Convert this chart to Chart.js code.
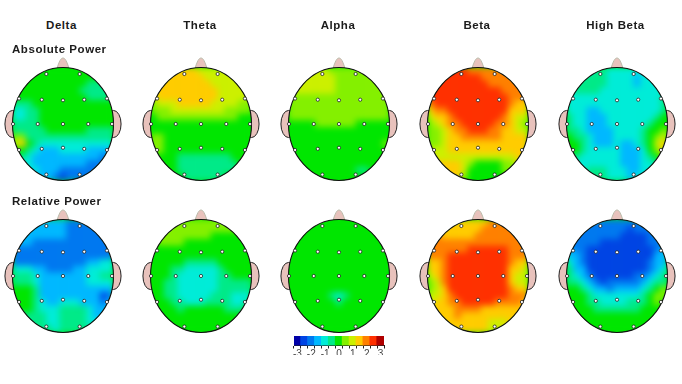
<!DOCTYPE html>
<html>
<head>
<meta charset="utf-8">
<script src="https://cdn.jsdelivr.net/npm/chart.js@4"></script>
<style>
  html, body { margin: 0; padding: 0; background: #fff; }
  body { position: relative; width: 682px; height: 384px; overflow: hidden; font-family: "Liberation Sans", Arial, sans-serif; }
  canvas { position: absolute; }
  .label { position: absolute; font-weight: bold; font-size: 11.5px; letter-spacing: .55px; color: #1c1c1c; white-space: nowrap; }
  .band { transform: translateX(-50%); }
</style>
</head>
<body>
<script>
const bandNames = ['Delta', 'Theta', 'Alpha', 'Beta', 'High Beta'];
const rowNames = ['Absolute Power', 'Relative Power'];
const legendTicks = [-3, -2.5, -2, -1.5, -1, -0.5, 0, 0.5, 1, 1.5, 2, 2.5, 3];

// z-score on the head, in half steps (-3 = -6 ... 3 = 6), 15 columns x 17 rows, read by eye
const deltaAbsolute = [
  [0,0,0,0,0,0,0,0,0,0,0,0,0,0,0],
  [0,0,0,0,0,0,0,0,0,0,0,0,0,0,0],
  [0,0,0,0,0,0,0,0,0,0,0,-1,-1,-1,0],
  [0,0,0,0,0,0,0,0,0,0,-1,-1,-1,-1,-1],
  [0,0,0,0,0,0,0,0,0,0,0,-1,-1,-1,-1],
  [-1,-1,-1,0,0,0,0,0,0,0,0,0,0,0,0],
  [-2,-2,-1,-1,0,0,0,0,0,0,0,0,0,0,0],
  [-2,-2,-1,-1,0,0,0,0,0,0,0,0,0,0,0],
  [-1,-1,-1,-1,0,0,0,0,0,0,0,0,0,0,0],
  [-1,-1,-1,-1,-1,0,0,0,0,0,0,-1,-1,-1,-1],
  [1,1,-1,-1,-1,-1,-1,-1,-1,-1,-1,-1,-1,-1,-1],
  [2,3,0,-1,-2,-2,-2,-2,-2,-2,-2,-2,-2,-2,-2],
  [0,0,-1,-2,-3,-3,-3,-2,-2,-2,-2,-3,-3,-3,-3],
  [-1,-1,-2,-3,-3,-3,-3,-3,-3,-3,-3,-3,-3,-4,-4],
  [-2,-2,-2,-3,-3,-3,-3,-3,-3,-3,-3,-4,-4,-4,-4],
  [-2,-2,-2,-2,-3,-3,-3,-4,-4,-4,-4,-4,-4,-4,-4],
  [-3,-3,-3,-3,-3,-3,-4,-5,-4,-4,-4,-4,-4,-4,-4]
];
const thetaAbsolute = [
  [3,3,3,3,3,3,3,2,2,2,2,2,2,2,2],
  [3,3,3,3,3,3,3,3,2,2,2,2,2,2,2],
  [3,3,3,3,3,3,3,3,3,2,2,2,2,2,2],
  [3,3,3,3,3,3,3,3,3,3,2,2,2,2,2],
  [2,3,3,3,3,3,3,3,3,3,2,2,2,2,2],
  [1,2,2,2,3,3,3,3,3,2,2,2,2,1,1],
  [1,1,1,2,2,2,2,2,2,2,2,1,1,1,1],
  [0,1,1,1,1,1,1,1,1,1,1,1,1,0,0],
  [0,0,0,0,0,0,0,0,0,0,0,0,0,0,0],
  [0,0,0,0,0,0,0,0,0,0,0,0,0,0,0],
  [1,1,0,0,0,0,0,0,0,0,0,0,0,0,0],
  [1,1,0,0,0,0,0,0,0,0,0,0,0,0,0],
  [1,1,0,0,0,0,0,0,0,0,0,0,0,0,0],
  [0,0,0,0,-1,-1,-1,-1,-1,-1,-1,-1,0,0,0],
  [0,0,0,0,-1,-1,-1,-1,-1,-1,-1,-1,-1,0,0],
  [0,0,0,0,-1,-1,-1,-1,-1,-1,-1,-1,-1,0,0],
  [0,0,0,0,0,-1,-1,-1,-1,-1,-1,0,0,0,0]
];
const alphaAbsolute = [
  [2,2,2,2,2,2,1,1,1,1,1,1,1,1,1],
  [2,2,2,2,2,2,2,1,1,1,1,1,1,1,1],
  [2,2,2,2,2,2,2,1,1,1,1,1,1,1,1],
  [2,2,2,2,2,2,2,1,1,1,1,1,1,1,1],
  [1,1,1,1,1,1,1,1,1,1,1,1,1,1,1],
  [1,1,1,1,1,1,1,1,1,1,1,1,1,1,1],
  [1,1,1,1,1,1,1,1,1,1,1,1,1,1,1],
  [1,1,1,1,1,1,1,1,1,1,1,1,1,1,1],
  [0,0,0,0,1,1,1,1,1,1,0,0,0,0,0],
  [0,0,0,0,0,0,0,0,0,0,0,0,0,0,0],
  [0,0,0,0,0,0,0,0,0,0,0,0,0,0,0],
  [0,0,0,0,0,0,0,0,0,0,0,0,0,0,1],
  [0,0,0,0,0,0,0,0,0,0,0,0,0,0,0],
  [0,0,0,0,0,0,0,0,0,0,0,0,0,0,0],
  [0,0,0,0,0,0,0,0,0,0,0,0,0,0,0],
  [0,0,0,0,0,0,0,0,0,0,-1,-1,0,0,0],
  [0,0,0,0,0,0,0,0,0,0,0,0,0,0,0]
];
const betaAbsolute = [
  [5,5,5,5,5,5,4,4,4,4,4,4,4,4,4],
  [5,5,5,5,5,5,5,5,4,4,4,4,4,4,4],
  [5,5,5,5,5,5,5,5,5,4,4,4,4,4,4],
  [5,5,5,5,5,5,5,5,5,5,5,4,4,4,4],
  [5,5,5,5,5,5,5,5,5,5,5,5,4,4,4],
  [4,5,5,5,5,5,5,5,5,5,5,5,4,3,3],
  [3,4,4,5,5,5,5,5,5,5,5,5,3,3,3],
  [2,3,3,4,5,5,5,5,5,5,5,4,3,2,2],
  [1,2,3,4,4,5,5,5,5,5,4,4,3,2,1],
  [1,1,2,3,4,4,5,5,5,4,4,3,3,2,2],
  [1,1,2,3,3,4,4,4,4,4,4,3,3,3,3],
  [1,1,2,3,3,3,3,3,3,3,3,3,3,3,3],
  [2,2,2,3,3,3,3,3,3,3,3,3,3,3,3],
  [2,2,2,2,2,2,2,2,2,2,2,2,2,3,3],
  [3,3,3,3,3,2,1,0,0,0,0,1,1,2,2],
  [3,3,3,3,3,2,0,0,0,0,0,1,1,1,1],
  [3,3,3,3,3,1,0,0,0,0,0,0,1,1,1]
];
const highBetaAbsolute = [
  [-2,-2,-2,-2,-1,-1,-2,-2,-2,-2,-2,-2,-2,-2,-2],
  [-2,-2,-1,-1,-1,-1,-2,-2,-2,-2,-3,-2,-2,-2,-2],
  [-2,-1,-1,-1,-1,-1,-2,-2,-2,-2,-3,-2,-2,-2,-2],
  [-2,-1,-1,-1,-1,-2,-2,-2,-2,-2,-2,-2,-2,-2,-2],
  [-2,-2,-2,-2,-2,-2,-2,-2,-2,-2,-2,-2,-2,-2,-1],
  [-2,-2,-2,-2,-2,-2,-2,-2,-2,-2,-2,-2,-2,-2,-1],
  [-2,-2,-2,-3,-3,-2,-2,-2,-2,-2,-2,-2,-2,-2,-1],
  [-1,-2,-2,-3,-3,-3,-2,-2,-2,-2,-2,-2,-2,-1,0],
  [-1,-2,-2,-3,-3,-3,-2,-2,-2,-2,-2,-2,-1,0,0],
  [-1,-1,-2,-3,-3,-3,-3,-2,-2,-2,-2,-1,0,0,1],
  [0,-1,-1,-2,-3,-3,-3,-2,-2,-2,-2,-1,0,1,2],
  [0,0,-1,-2,-3,-3,-3,-2,-3,-3,-2,-1,0,2,3],
  [0,0,-1,-2,-2,-2,-2,-2,-3,-3,-3,-2,0,1,3],
  [-1,-1,-2,-2,-2,-2,-2,-2,-3,-3,-3,-2,-1,0,1],
  [-2,-2,-2,-2,-2,-2,-2,-2,-3,-3,-3,-2,-2,-1,-1],
  [-2,-2,-2,-1,-1,-1,-2,-2,-2,-3,-3,-2,-2,-2,-2],
  [-2,-2,-2,-1,-1,-1,-2,-2,-2,-3,-2,-2,-2,-2,-2]
];
const deltaRelative = [
  [-3,-3,-3,-3,-3,-3,-3,-3,-4,-4,-4,-4,-4,-4,-4],
  [-3,-3,-3,-3,-3,-3,-3,-3,-4,-4,-4,-4,-4,-4,-4],
  [-3,-3,-3,-3,-3,-3,-3,-3,-4,-4,-4,-4,-4,-4,-4],
  [-3,-3,-3,-4,-4,-4,-4,-4,-4,-4,-4,-4,-4,-4,-4],
  [-4,-4,-4,-4,-4,-4,-4,-4,-4,-4,-4,-4,-4,-4,-4],
  [-4,-4,-4,-4,-4,-4,-4,-4,-4,-4,-4,-4,-4,-4,-4],
  [-4,-4,-4,-4,-4,-4,-4,-4,-4,-4,-4,-3,-3,-2,-2],
  [-2,-2,-2,-3,-3,-4,-4,-4,-4,-3,-3,-2,-2,-2,-2],
  [-1,-1,-1,-2,-3,-3,-3,-3,-3,-3,-3,-2,-2,-1,-1],
  [-1,-1,-1,-2,-3,-3,-3,-3,-3,-3,-3,-2,-2,-2,-2],
  [0,0,0,-1,-3,-3,-3,-3,-3,-3,-3,-3,-3,-3,-3],
  [0,0,0,-1,-3,-3,-3,-3,-3,-3,-3,-3,-3,-5,-4],
  [0,0,0,-1,-2,-3,-3,-2,-2,-2,-3,-3,-3,-4,-3],
  [0,0,0,-1,-2,-2,-2,-1,-1,-1,-1,-2,-3,-3,-3],
  [-1,-1,-1,-1,-1,-2,-2,-1,-1,-1,-1,-2,-3,-3,-3],
  [-1,-1,-1,-1,-1,-2,-2,-1,-1,-1,-1,-2,-2,-2,-2],
  [-1,-1,-1,-1,-1,-1,-2,-1,-1,-1,-1,-1,-2,-2,-2]
];
const thetaRelative = [
  [1,1,1,1,1,1,1,1,1,1,1,1,1,1,1],
  [1,1,1,1,1,1,1,1,1,1,1,1,1,0,0],
  [0,1,1,1,1,1,1,1,1,0,0,0,0,0,0],
  [0,1,1,1,1,0,0,0,0,0,0,0,0,0,0],
  [0,0,0,0,0,0,0,0,0,0,0,0,0,0,0],
  [0,0,0,0,0,0,0,0,0,0,0,0,0,0,0],
  [0,0,0,0,0,-1,-1,-1,-1,-1,0,0,0,0,0],
  [0,0,0,-1,-1,-2,-2,-2,-2,-2,-1,0,0,0,0],
  [0,0,0,-1,-2,-2,-2,-2,-2,-2,-1,-1,0,0,0],
  [0,0,-1,-1,-2,-2,-2,-2,-2,-2,-1,-1,-1,-1,-1],
  [0,0,-1,-1,-2,-2,-2,-2,-2,-2,-1,-1,-1,-1,-1],
  [0,0,-1,-1,-2,-2,-2,-2,-2,-1,-1,-1,-2,-2,-2],
  [0,0,0,-1,-1,-2,-2,-2,-1,-1,-1,-1,-2,-2,-1],
  [0,0,0,0,-1,0,0,0,0,0,0,-1,-1,-1,0],
  [0,0,0,0,0,0,0,0,0,0,0,0,0,0,0],
  [0,0,0,0,0,0,0,0,0,0,0,0,0,0,0],
  [0,0,0,0,0,0,0,0,0,0,0,0,0,0,0]
];
const alphaRelative = [
  [0,0,0,0,0,0,0,0,0,0,0,0,0,0,0],
  [0,0,0,0,0,0,0,0,0,0,0,0,0,0,0],
  [0,0,0,0,0,0,0,0,0,0,0,0,0,0,0],
  [0,0,0,0,0,0,0,0,0,0,0,0,0,0,0],
  [0,0,0,0,0,0,0,0,0,0,0,0,0,0,0],
  [0,0,0,0,0,0,0,0,0,0,0,0,0,0,0],
  [0,0,0,0,0,0,0,0,0,0,0,0,0,0,0],
  [0,0,0,0,0,0,0,0,0,0,0,0,0,0,0],
  [0,0,0,0,0,0,0,0,0,0,0,0,0,0,0],
  [0,0,0,0,0,0,0,0,0,0,0,0,0,0,0],
  [0,0,0,0,0,0,0,0,0,0,0,0,0,0,0],
  [0,0,0,0,0,0,-1,-2,-1,0,0,0,0,0,0],
  [0,0,0,0,0,0,0,-1,0,0,0,0,0,0,0],
  [0,0,0,0,0,0,0,0,0,0,0,0,0,0,0],
  [0,0,0,0,0,0,0,0,0,0,0,0,0,0,0],
  [0,0,0,0,0,0,0,0,0,0,0,0,0,0,0],
  [0,0,0,0,0,0,0,0,0,0,0,0,0,0,0]
];
const betaRelative = [
  [3,3,3,3,3,3,3,3,3,4,4,4,4,4,4],
  [4,4,3,3,3,3,3,3,4,4,4,4,4,4,4],
  [4,4,3,3,3,3,3,4,4,4,4,4,4,4,4],
  [4,4,4,4,4,4,4,4,4,4,4,4,4,4,4],
  [4,4,4,4,4,4,5,5,5,5,5,5,4,4,4],
  [4,4,4,5,5,5,5,5,5,5,5,5,4,4,4],
  [3,3,4,5,5,5,5,5,5,5,5,5,4,3,3],
  [3,3,4,5,5,5,5,5,5,5,5,5,3,3,2],
  [2,3,4,5,5,5,5,5,5,5,5,5,3,2,2],
  [1,2,4,5,5,5,5,5,5,5,5,5,3,2,2],
  [1,2,3,5,5,5,5,5,5,5,5,5,4,3,3],
  [2,2,3,4,5,5,5,5,5,5,5,5,4,4,4],
  [2,3,3,4,4,5,5,5,5,5,4,4,4,4,3],
  [3,3,3,3,4,4,4,4,3,3,3,3,3,3,3],
  [3,3,3,3,4,3,3,3,3,3,3,3,3,3,3],
  [3,3,3,3,3,3,3,3,3,2,2,2,3,3,3],
  [3,3,3,3,3,3,3,3,3,2,2,3,3,3,3]
];
const highBetaRelative = [
  [-4,-4,-4,-4,-4,-4,-4,-4,-4,-4,-4,-4,-4,-4,-4],
  [-4,-4,-4,-4,-4,-4,-4,-4,-4,-5,-4,-4,-4,-4,-4],
  [-4,-4,-4,-4,-4,-4,-4,-4,-5,-5,-5,-5,-4,-4,-4],
  [-4,-4,-4,-4,-4,-5,-5,-5,-5,-5,-5,-5,-4,-4,-4],
  [-3,-4,-4,-5,-5,-5,-5,-5,-5,-5,-5,-5,-5,-4,-3],
  [-3,-3,-4,-5,-5,-5,-5,-5,-5,-5,-5,-5,-5,-3,-3],
  [-2,-3,-4,-5,-5,-5,-5,-5,-5,-5,-5,-5,-4,-3,-3],
  [-1,-3,-3,-5,-5,-5,-5,-5,-5,-5,-5,-5,-4,-3,-2],
  [-1,-2,-3,-4,-5,-5,-5,-5,-5,-5,-4,-4,-3,-2,-1],
  [-1,-1,-2,-3,-4,-5,-4,-4,-4,-4,-4,-3,-2,-1,-1],
  [0,0,-1,-2,-3,-3,-4,-3,-3,-3,-3,-2,-1,0,1],
  [0,0,0,-1,-2,-2,-2,-2,-2,-2,-2,-1,0,1,1],
  [0,0,0,-1,-1,-2,-2,-2,-2,-1,-1,-1,0,1,0],
  [0,0,0,0,-1,-1,-1,-1,-1,-1,-1,0,0,0,0],
  [0,0,0,0,0,0,0,0,0,0,0,0,0,0,0],
  [0,0,0,0,0,0,0,0,0,0,0,0,0,0,0],
  [0,0,0,0,0,0,0,0,0,0,0,0,0,0,0]
];

// electrode sites, head radius = 1
const siteX = [-.33, .33, -.87, -.42, 0, .42, .87, -.99, -.5, 0, .5, .97, -.87, -.42, 0, .42, .87, -.33, .33];
const siteY = [-.885, -.885, -.45, -.43, -.42, -.43, -.45, 0, 0, 0, 0, 0, .46, .44, .42, .44, .46, .895, .895];

const palette = {
  '-6': '#0000a8', '-5': '#0044e4', '-4': '#0078f0', '-3': '#00b8ff', '-2': '#00ecd8', '-1': '#00ea88',
  '0': '#00e600', '1': '#84f000', '2': '#ccf000', '3': '#ffcc00', '4': '#ff8000', '5': '#ff3000', '6': '#b00000'
};

const headX = [62.5, 201, 339, 478, 616.5];
const headY = [123.5, 275.7];
const RX = 50.5, RY = 56.5, BOX_W = 142, BOX_H = 140;

const headShape = {
  id: 'headShape',
  afterDatasetDraw(chart, args) {
    if (args.meta.label !== 'cells') return;
    const { ctx, canvas, scales: { x, y } } = chart;
    const cx = x.getPixelForValue(0), cy = y.getPixelForValue(0);
    const rx = x.getPixelForValue(1) - cx, ry = y.getPixelForValue(1) - cy;

    const copy = document.createElement('canvas');
    copy.width = canvas.width; copy.height = canvas.height;
    copy.getContext('2d').drawImage(canvas, 0, 0);
    ctx.clearRect(0, 0, canvas.width, canvas.height);

    // ears and nose sit behind the scalp
    ctx.fillStyle = '#e8c2bc';
    ctx.strokeStyle = '#222';
    ctx.lineWidth = 1;
    [-1, 1].forEach(side => {
      ctx.beginPath();
      ctx.ellipse(cx + side * rx * 1.0, cy, rx * .15, ry * .24, 0, 0, Math.PI * 2);
      ctx.fill(); ctx.stroke();
    });
    ctx.beginPath();
    ctx.moveTo(cx - rx * .12, cy - ry * .98);
    ctx.quadraticCurveTo(cx - rx * .06, cy - ry * 1.17, cx, cy - ry * 1.17);
    ctx.quadraticCurveTo(cx + rx * .06, cy - ry * 1.17, cx + rx * .12, cy - ry * .98);
    ctx.closePath();
    ctx.fill();
    ctx.strokeStyle = '#bba';
    ctx.stroke();

    ctx.save();
    ctx.beginPath();
    ctx.ellipse(cx, cy, rx, ry, 0, 0, Math.PI * 2);
    ctx.fillStyle = '#00e600';
    ctx.fill();
    ctx.clip();
    ctx.filter = 'blur(3px)';
    ctx.drawImage(copy, 0, 0);
    ctx.restore();

    ctx.beginPath();
    ctx.ellipse(cx, cy, rx, ry, 0, 0, Math.PI * 2);
    ctx.strokeStyle = '#111';
    ctx.lineWidth = 1.1;
    ctx.stroke();
  }
};

function addCanvas(left, top, w, h) {
  const c = document.createElement('canvas');
  c.width = w; c.height = h;
  c.style.left = left + 'px'; c.style.top = top + 'px';
  c.style.width = w + 'px'; c.style.height = h + 'px';
  document.body.appendChild(c);
  return c;
}

function addLabel(text, left, top, cls) {
  const d = document.createElement('div');
  d.className = 'label ' + (cls || '');
  d.textContent = text;
  d.style.left = left + 'px'; d.style.top = top + 'px';
  document.body.appendChild(d);
}

function drawHead(grid, left, top) {
  const nr = grid.length, nc = grid[0].length;
  const cells = [], colors = [];
  grid.forEach((row, j) => row.forEach((level, i) => {
    cells.push({ x: -1 + (2 * i + 1) / nc, y: -1 + (2 * j + 1) / nr, z: level / 2 });
    colors.push(palette[level]);
  }));
  return new Chart(addCanvas(left, top, BOX_W, BOX_H), {
    type: 'scatter',
    data: {
      datasets: [
        {
          label: 'sites',
          order: 1,
          data: siteX.map((x, i) => ({ x, y: siteY[i] })),
          pointRadius: 1.6,
          pointBackgroundColor: '#fff',
          pointBorderColor: '#222',
          pointBorderWidth: .8
        },
        {
          label: 'cells',
          order: 2,
          data: cells,
          pointStyle: 'rect',
          pointRadius: 5.2,
          pointBorderWidth: 0,
          pointBackgroundColor: colors
        }
      ]
    },
    options: {
      responsive: false,
      animation: false,
      events: [],
      layout: { padding: 0, autoPadding: false },
      scales: {
        x: { display: false, min: -BOX_W / 2 / RX, max: BOX_W / 2 / RX },
        y: { display: false, reverse: true, min: -BOX_H / 2 / RY, max: BOX_H / 2 / RY }
      },
      plugins: { legend: { display: false }, tooltip: { enabled: false } }
    },
    plugins: [headShape]
  });
}

const heads = [
  [deltaAbsolute, thetaAbsolute, alphaAbsolute, betaAbsolute, highBetaAbsolute],
  [deltaRelative, thetaRelative, alphaRelative, betaRelative, highBetaRelative]
];
heads.forEach((row, r) => row.forEach((grid, b) => {
  drawHead(grid, headX[b] - BOX_W / 2, headY[r] - BOX_H / 2);
}));

bandNames.forEach((name, b) => addLabel(name, headX[b] - 1, 19, 'band'));
addLabel(rowNames[0], 12, 43);
addLabel(rowNames[1], 12, 195);

// colour scale
new Chart(addCanvas(279, 330, 120, 30), {
  type: 'bar',
  data: {
    datasets: [{
      data: legendTicks.map(z => ({ x: z, y: 1 })),
      backgroundColor: legendTicks.map(z => palette[z * 2]),
      barThickness: 7.6
    }]
  },
  options: {
    responsive: false,
    animation: false,
    events: [],
    layout: { padding: { left: 15, right: 15, top: 6, bottom: 5 }, autoPadding: false },
    scales: {
      x: {
        type: 'linear',
        min: -3,
        max: 3,
        border: { color: '#222' },
        grid: { drawOnChartArea: false, tickLength: 3, color: '#222' },
        ticks: {
          stepSize: .5,
          autoSkip: false,
          maxRotation: 0,
          padding: 0,
          color: '#444',
          font: { family: 'Liberation Sans', size: 10 },
          callback: v => Number.isInteger(v) ? String(v) : ''
        }
      },
      y: { display: false, min: 0, max: 1 }
    },
    plugins: { legend: { display: false }, tooltip: { enabled: false } }
  }
});
</script>
</body>
</html>
